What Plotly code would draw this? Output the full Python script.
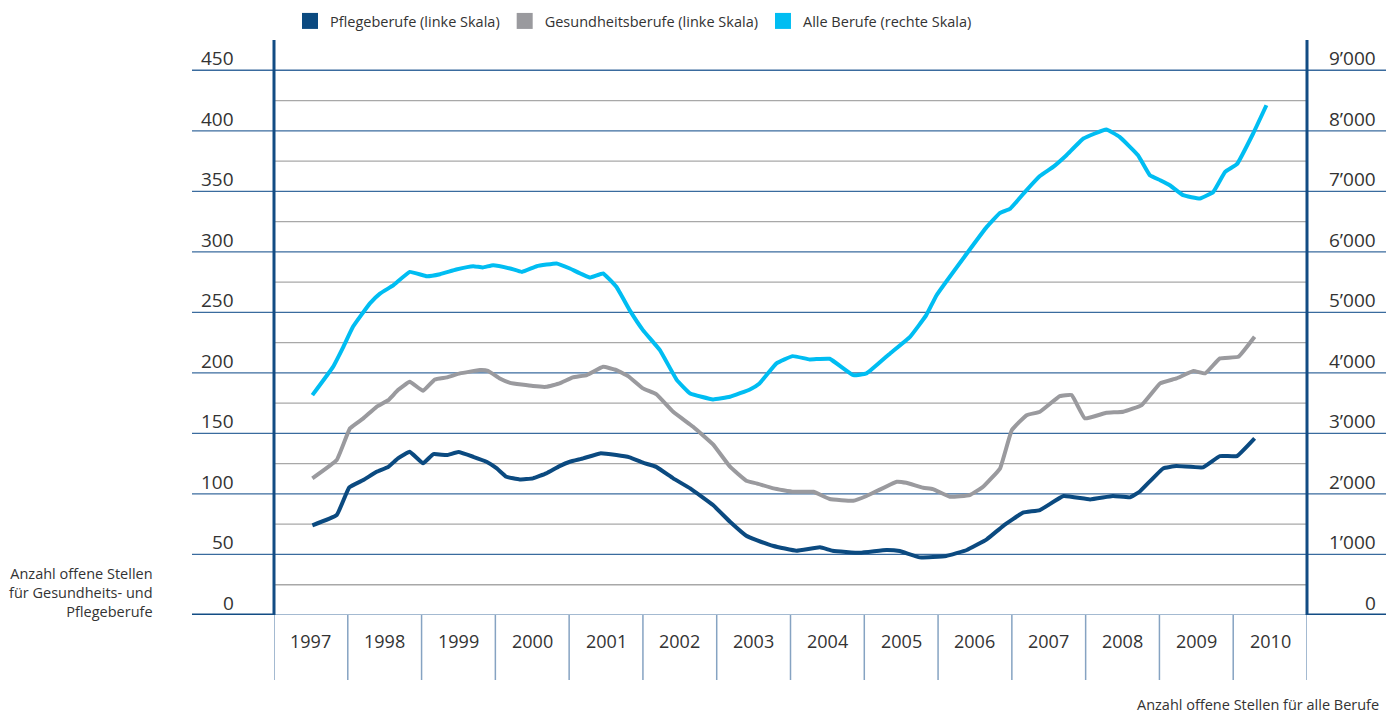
import plotly.graph_objects as go

# ---------------- data ----------------
years = list(range(1997, 2011))
left_ticks = list(range(0, 451, 50))
minor_ticks = list(range(25, 451, 50))
right_ticks = list(range(0, 9001, 1000))
right_tick_text = ["0"] + [f"{v // 1000}’000" for v in right_ticks[1:]]

pflege_x = [1997.02, 1997.35, 1997.52, 1997.71, 1997.89, 1998.05, 1998.18, 1998.34, 1998.52, 1998.66,
            1998.84, 1999.00, 1999.20, 1999.38, 1999.52, 1999.65, 1999.83, 2000.01, 2000.19, 2000.37,
            2000.51, 2000.69, 2000.92, 2001.14, 2001.32, 2001.50, 2001.68, 2001.91, 2002.14, 2002.45,
            2002.68, 2002.90, 2003.04, 2003.27, 2003.58, 2003.90, 2004.07, 2004.44, 2004.80, 2004.98,
            2005.25, 2005.61, 2005.89, 2006.16, 2006.38, 2006.65, 2006.88, 2007.20, 2007.56, 2007.87,
            2008.10, 2008.23, 2008.55, 2008.73, 2009.09, 2009.32, 2009.55, 2009.79]
pflege_y = [74.1, 82.6, 105.4, 111.5, 118.3, 122.4, 129.4, 134.8, 125.3, 132.9,
            132.1, 134.6, 130.7, 126.6, 121.1, 114.2, 112.0, 112.9, 117.0, 123.0,
            126.6, 129.4, 133.5, 132.1, 130.2, 125.8, 122.4, 112.9, 104.6, 90.8,
            77.0, 65.5, 61.9, 57.0, 53.1, 55.9, 53.1, 51.4, 53.7, 52.8,
            47.6, 48.7, 53.7, 62.5, 73.5, 84.5, 86.7, 98.3, 95.5, 98.3,
            97.2, 101.8, 121.1, 123.0, 122.0, 131.3, 131.3, 145.9]

gesund_x = [1997.02, 1997.35, 1997.53, 1997.71, 1997.89, 1998.05, 1998.18, 1998.34, 1998.52, 1998.68,
            1998.84, 1999.02, 1999.29, 1999.40, 1999.56, 1999.70, 2000.01, 2000.19, 2000.37, 2000.55,
            2000.74, 2000.96, 2001.14, 2001.30, 2001.50, 2001.68, 2001.91, 2002.18, 2002.45, 2002.68,
            2002.90, 2003.04, 2003.27, 2003.54, 2003.81, 2004.03, 2004.35, 2004.53, 2004.94, 2005.07,
            2005.30, 2005.43, 2005.66, 2005.93, 2006.11, 2006.34, 2006.50, 2006.70, 2006.88, 2007.15,
            2007.31, 2007.49, 2007.78, 2008.01, 2008.26, 2008.51, 2008.73, 2008.96, 2009.12, 2009.32,
            2009.57, 2009.79]
gesund_y = [112.9, 128.0, 154.2, 162.4, 172.0, 177.5, 185.8, 192.6, 185.2, 194.6,
            196.3, 199.6, 202.3, 201.7, 195.4, 191.8, 189.1, 188.5, 191.3, 196.3,
            198.2, 205.0, 202.3, 197.3, 187.2, 182.5, 167.9, 155.5, 140.9, 122.5,
            110.9, 108.7, 104.6, 101.8, 101.8, 95.8, 94.4, 98.3, 110.1, 109.2,
            105.1, 104.0, 97.7, 99.1, 105.9, 121.1, 152.8, 165.1, 167.9, 180.8,
            181.7, 162.4, 167.0, 167.9, 173.4, 191.3, 195.4, 201.5, 199.6, 212.0,
            213.3, 229.8]

alle_x = [1997.02, 1997.30, 1997.44, 1997.57, 1997.80, 1997.94, 1998.12, 1998.34, 1998.57, 1998.75,
          1998.97, 1999.20, 1999.33, 1999.47, 1999.70, 1999.86, 2000.06, 2000.33, 2000.51, 2000.78,
          2000.96, 2001.14, 2001.32, 2001.50, 2001.73, 2001.96, 2002.14, 2002.45, 2002.68, 2002.95,
          2003.08, 2003.31, 2003.53, 2003.76, 2004.03, 2004.35, 2004.53, 2004.85, 2005.12, 2005.34,
          2005.48, 2005.89, 2006.16, 2006.34, 2006.48, 2006.70, 2006.88, 2007.06, 2007.24, 2007.47,
          2007.78, 2007.96, 2008.21, 2008.37, 2008.51, 2008.64, 2008.82, 2009.05, 2009.23, 2009.39,
          2009.55, 2009.77, 2009.95]
alle_y = [3633, 4100, 4431, 4761, 5148, 5313, 5450, 5669, 5598, 5631,
          5709, 5763, 5742, 5780, 5725, 5669, 5763, 5808, 5725, 5577,
          5643, 5422, 5037, 4707, 4376, 3881, 3661, 3562, 3605, 3727,
          3826, 4157, 4277, 4223, 4233, 3963, 3991, 4322, 4596, 4954,
          5284, 5973, 6412, 6644, 6716, 7021, 7253, 7403, 7596, 7872,
          8021, 7899, 7596, 7266, 7184, 7101, 6936, 6881, 6990, 7321,
          7448, 7955, 8422]

names = ["Pflegeberufe (linke Skala)", "Gesundheitsberufe (linke Skala)", "Alle Berufe (rechte Skala)"]
colors = ["#0B4A80", "#9A9A9E", "#00BDF2"]

# ---------------- styling ----------------
W, H = 1386, 713
ML, MR, MT, MB = 274, 79, 40, 98
PW, PH = W - ML - MR, H - MT - MB
FONT = "Open Sans"
TXT = "#333333"
AXIS_BLUE = "#124C84"
GRID_BLUE = "#3A6B9E"
GRID_GRAY = "#A8A8A8"
BOX_LINE = "#86A3C2"


def px_x(p):
    return (p - ML) / PW


def px_y(p):
    return (H - MB - p) / PH


fig = go.Figure()

series = [(pflege_x, pflege_y, "y"), (gesund_x, gesund_y, "y"), (alle_x, alle_y, "y2")]
for (xs, ys, ax), name, col in zip(series, names, colors):
    fig.add_trace(go.Scatter(x=xs, y=ys, yaxis=ax, mode="lines", name=name, showlegend=False,
                             line=dict(color=col, width=4, shape="spline", smoothing=0.3),
                             hoverinfo="skip"))
# legend entries with square swatches
for name, col in zip(names, colors):
    fig.add_trace(go.Scatter(x=[None], y=[None], mode="markers", name=name,
                             marker=dict(symbol="square", size=16, color=col)))

shapes = []
# minor grid (gray)
for v in minor_ticks:
    shapes.append(dict(type="line", xref="paper", yref="y", x0=0, x1=1, y0=v, y1=v,
                       line=dict(color=GRID_GRAY, width=1.3), layer="below"))
# major grid (blue), extending outside the plot
for v in left_ticks[1:]:
    shapes.append(dict(type="line", xref="paper", yref="y", x0=px_x(192), x1=px_x(W), y0=v, y1=v,
                       line=dict(color=GRID_BLUE, width=1.3), layer="below"))
# zero line inside plot (light) and outside parts (thick)
shapes.append(dict(type="line", xref="paper", yref="y", x0=0, x1=1, y0=0, y1=0,
                   line=dict(color=BOX_LINE, width=1.5)))
shapes.append(dict(type="line", xref="paper", yref="y", x0=px_x(192), x1=0, y0=0, y1=0,
                   line=dict(color=AXIS_BLUE, width=3)))
shapes.append(dict(type="line", xref="paper", yref="y", x0=1, x1=px_x(W), y0=0, y1=0,
                   line=dict(color=AXIS_BLUE, width=3)))
# year box separators
for k in range(len(years) + 1):
    xb = years[0] - 0.5 + k
    shapes.append(dict(type="line", xref="x", yref="paper", x0=xb, x1=xb, y0=px_y(680), y1=0,
                       line=dict(color=BOX_LINE, width=1.5)))
# vertical axes
for xa in (0, 1):
    shapes.append(dict(type="line", xref="paper", yref="paper", x0=xa, x1=xa, y0=0, y1=1,
                       line=dict(color=AXIS_BLUE, width=3)))

annotations = []
for v in left_ticks:
    annotations.append(dict(xref="paper", yref="y", x=px_x(236), y=v, text=str(v), showarrow=False,
                            xanchor="right", yanchor="middle", yshift=12,
                            font=dict(family=FONT, size=19, color=TXT)))
for v, t in zip(right_ticks, right_tick_text):
    annotations.append(dict(xref="paper", yref="y2", x=px_x(1378), y=v, text=t, showarrow=False,
                            xanchor="right", yanchor="middle", yshift=12,
                            font=dict(family=FONT, size=19, color=TXT)))
for yv in years:
    annotations.append(dict(xref="x", yref="paper", x=yv, y=px_y(641), text=str(yv), showarrow=False,
                            xanchor="center", yanchor="middle",
                            font=dict(family=FONT, size=18, color=TXT)))
annotations.append(dict(xref="paper", yref="paper", x=px_x(155), y=px_y(592),
                        text="Anzahl offene Stellen<br>für Gesundheits- und<br>Pflegeberufe",
                        showarrow=False, xanchor="right", yanchor="middle", align="right",
                        font=dict(family=FONT, size=14.5, color=TXT)))
annotations.append(dict(xref="paper", yref="paper", x=px_x(1381), y=px_y(704),
                        text="Anzahl offene Stellen für alle Berufe",
                        showarrow=False, xanchor="right", yanchor="middle",
                        font=dict(family=FONT, size=14.5, color=TXT)))

fig.update_layout(
    width=W, height=H,
    margin=dict(l=ML, r=MR, t=MT, b=MB, pad=0, autoexpand=False),
    paper_bgcolor="white", plot_bgcolor="white",
    xaxis=dict(range=[1996.5, 2010.5], showgrid=False, zeroline=False, showticklabels=False,
               showline=False, ticks=""),
    yaxis=dict(range=[0, 475], showgrid=False, zeroline=False, showticklabels=False,
               showline=False, ticks=""),
    yaxis2=dict(range=[0, 9500], overlaying="y", side="right", showgrid=False, zeroline=False,
                showticklabels=False, showline=False, ticks=""),
    showlegend=True,
    legend=dict(orientation="h", xref="container", yref="container",
                x=290 / W, y=1 - 21 / H, xanchor="left", yanchor="middle",
                font=dict(family=FONT, size=14.5, color=TXT), bgcolor="rgba(0,0,0,0)",
                borderwidth=0, itemclick=False, itemdoubleclick=False),
    shapes=shapes,
    annotations=annotations,
)

fig.write_html("out.html", config={"displayModeBar": False, "staticPlot": True})

# remove the default page margin so the figure sits at the window's top-left corner
with open("out.html", "r", encoding="utf-8") as f:
    html = f.read()
html = html.replace("<head>", "<head><style>html,body{margin:0;padding:0;overflow:hidden;}</style>", 1)
with open("out.html", "w", encoding="utf-8") as f:
    f.write(html)
